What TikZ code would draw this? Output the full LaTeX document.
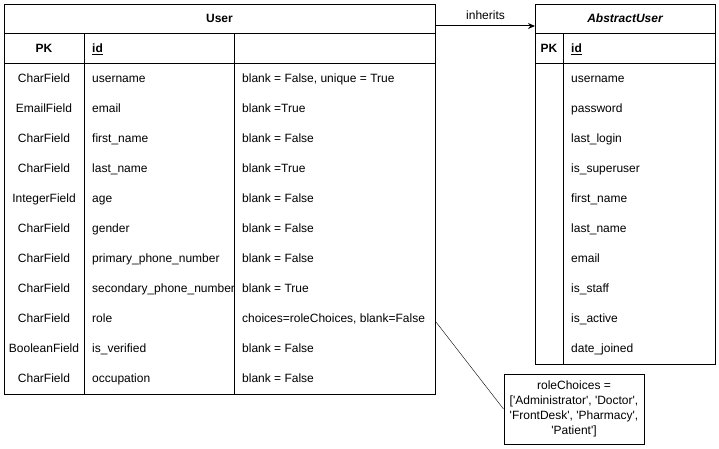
\documentclass[tikz,border=0pt]{standalone}
\usepackage{fontspec}
\setmainfont{Liberation Sans}
\usetikzlibrary{arrows.meta,positioning}
\newcommand\sq{\textquotesingle}

\begin{document}
\begin{tikzpicture}[x=1pt,y=-1pt,
  tablebox/.style={draw, line width=1pt, inner sep=0pt, anchor=north west},
  cell/.style={inner sep=0pt, text height=10pt, text depth=3pt,
    font=\fontsize{12}{14}\selectfont},
  lcell/.style={cell, anchor=west},
  hcell/.style={cell, font=\fontsize{12}{14}\selectfont\bfseries}]
  \useasboundingbox (0,0) rectangle (719,449);
  % User table
  \node[tablebox, minimum width=431pt, minimum height=390pt] (user) at (4,4) {};
  \draw[line width=1pt] (4,34) -- (435,34) (4,64) -- (435,64)
    (84,34) -- (84,394) (234,34) -- (234,394);
  \node[hcell] (usertitle) at (219.5,19) {User};
  \node[hcell] (userpk) at (44,49) {PK};
  \node[hcell, anchor=west] (userid) at (92,49) {\underline{id}};
  \foreach \ftype/\fname/\fopts [count=\i from 0] in {
    CharField/username/{blank = False, unique = True},
    EmailField/email/{blank =True},
    CharField/first\_name/{blank = False},
    CharField/last\_name/{blank =True},
    IntegerField/age/{blank = False},
    CharField/gender/{blank = False},
    CharField/primary\_phone\_number/{blank = False},
    CharField/secondary\_phone\_number/{blank = True},
    CharField/role/{choices=roleChoices, blank=False},
    BooleanField/is\_verified/{blank = False},
    CharField/occupation/{blank = False}} {
    \node[cell] (utype\i) at (44,79+30*\i) {\ftype};
    \node[lcell] (uname\i) at (92,79+30*\i) {\fname};
    \node[lcell] (uopts\i) at (242,79+30*\i) {\fopts};
  }

  % AbstractUser table
  \node[tablebox, minimum width=180pt, minimum height=360pt] (abstract) at (535,4) {};
  \draw[line width=1pt] (535,34) -- (715,34) (535,64) -- (715,64)
    (563,34) -- (563,364);
  \node[hcell, font=\fontsize{12}{14}\selectfont\bfseries\itshape] (abstracttitle) at (625,19) {AbstractUser};
  \node[hcell] (abstractpk) at (549,49) {PK};
  \node[hcell, anchor=west] (abstractid) at (571,49) {\underline{id}};
  \foreach \fname [count=\i from 0] in {username, password, last\_login,
    is\_superuser, first\_name, last\_name, email, is\_staff, is\_active,
    date\_joined}
    \node[lcell] (aname\i) at (571,79+30*\i) {\fname};

  % inheritance
  \draw[line width=1pt, -{Stealth[length=7pt, width=6pt]}]
    ([yshift=-22pt]user.north east) -- ([yshift=-22pt]abstract.north west)
    node[cell, midway, above=3pt] (inherits) {inherits};

  % note on roleChoices
  \node[draw, line width=1pt, minimum width=140pt, minimum height=70pt,
    inner sep=0pt, align=center, font=\fontsize{12}{15}\selectfont]
    (choices) at (574,409) {roleChoices =\\{}[\sq Administrator\sq, \sq Doctor\sq,\\
    \sq FrontDesk\sq, \sq Pharmacy\sq,\\ \sq Patient\sq]};
  \coordinate (rolept) at ([yshift=-318pt]user.north east);
  \draw (rolept) -- (choices.west);
\end{tikzpicture}
\end{document}
